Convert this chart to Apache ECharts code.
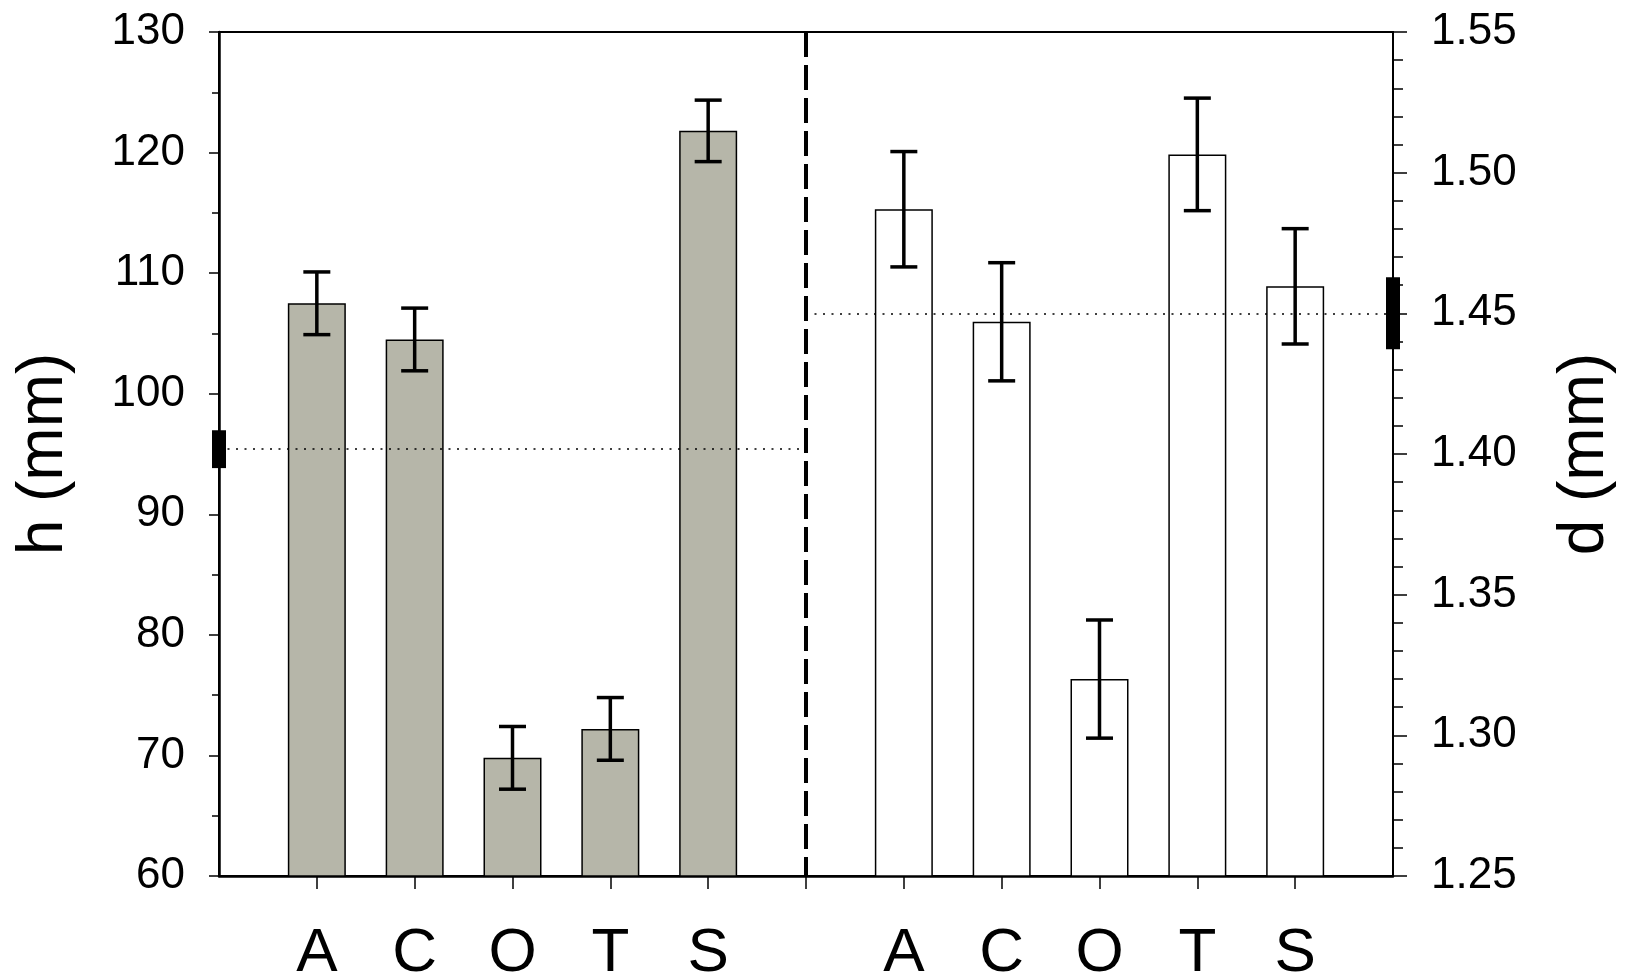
<!DOCTYPE html>
<html>
<head>
<meta charset="utf-8">
<script src="https://cdn.jsdelivr.net/npm/echarts@6/dist/echarts.min.js"></script>
<style>
html,body{margin:0;padding:0;background:#fff;}
#chart{width:1627px;height:980px;}
</style>
</head>
<body>
<div id="chart"></div>
<script>
// ---- data ----
const groups = ['A', 'C', 'O', 'T', 'S'];
const hMean = [107.5, 104.5, 69.8, 72.2, 121.8];
const hErr  = [2.6, 2.6, 2.6, 2.6, 2.55];
const dMean = [1.487, 1.447, 1.320, 1.5065, 1.4596];
const dErr  = [0.0205, 0.021, 0.021, 0.020, 0.0205];
const hRef = 95.4, hRefSpread = 1.57;
const dRef = 1.45, dRefSpread = 0.0128;
const hTicks = {min: 60, max: 130, step: 10};
const dTicks = {min: 1.25, max: 1.55, step: 0.05};

// ---- build ----
const slots = [''].concat(groups, [''], groups, ['']);
const last = slots.length - 1;
const mid = groups.length + 1;
const hIdx = groups.map((_, i) => i + 1);
const dIdx = groups.map((_, i) => i + mid + 1);
const FONT = '"Liberation Sans", Arial, sans-serif';

const errRender = function (params, api) {
  const x = api.value(0);
  const pHi = api.coord([x, api.value(2)]);
  const pLo = api.coord([x, api.value(1)]);
  const cap = 13.5;
  const st = {stroke: '#000', lineWidth: 3.5};
  return {type: 'group', children: [
    {type: 'line', shape: {x1: pHi[0], y1: pHi[1], x2: pLo[0], y2: pLo[1]}, style: st},
    {type: 'line', shape: {x1: pHi[0] - cap, y1: pHi[1], x2: pHi[0] + cap, y2: pHi[1]}, style: st},
    {type: 'line', shape: {x1: pLo[0] - cap, y1: pLo[1], x2: pLo[0] + cap, y2: pLo[1]}, style: st}
  ]};
};
const markRender = function (params, api) {
  const x = api.value(0);
  const pHi = api.coord([x, api.value(2)]);
  const pLo = api.coord([x, api.value(1)]);
  return {type: 'rect', shape: {x: pHi[0] - 7, y: pHi[1], width: 14, height: pLo[1] - pHi[1]},
    style: {fill: '#000'}};
};

const dotted = {color: '#000', width: 1.5, type: [2, 6.5]};

const option = {
  animation: false,
  backgroundColor: '#fff',
  grid: {left: 219, right: 234, top: 32, bottom: 104, show: true,
    containLabel: false, outerBoundsMode: 'none',
    borderColor: '#000', borderWidth: 2, backgroundColor: 'transparent'},
  xAxis: {
    type: 'category', data: slots, boundaryGap: false,
    axisLine: {lineStyle: {color: '#000', width: 2.5}},
    axisTick: {show: true, length: 13, interval: (i) => i > 0 && i < last,
      lineStyle: {color: '#000', width: 1.5}},
    axisLabel: {interval: 0, fontSize: 62, color: '#000', margin: 47, fontFamily: FONT},
    splitLine: {show: false}
  },
  yAxis: [
    {
      type: 'value', position: 'left', min: hTicks.min, max: hTicks.max, interval: hTicks.step,
      axisLine: {show: true, lineStyle: {color: '#000', width: 2.5}},
      axisTick: {show: true, length: 10, lineStyle: {color: '#000', width: 1.5}},
      minorTick: {show: true, splitNumber: 2, length: 7, lineStyle: {color: '#000', width: 1.5}},
      splitLine: {show: false},
      axisLabel: {fontSize: 44, color: '#000', margin: 34, fontFamily: FONT},
      name: 'h (mm)', nameLocation: 'middle', nameRotate: 90, nameGap: 143,
      nameTextStyle: {fontSize: 64, color: '#000', fontFamily: FONT}
    },
    {
      type: 'value', position: 'right', min: dTicks.min, max: dTicks.max, interval: dTicks.step,
      axisLine: {show: true, lineStyle: {color: '#000', width: 2}},
      axisTick: {show: true, length: 14, lineStyle: {color: '#000', width: 1.5}},
      minorTick: {show: true, splitNumber: 5, length: 10, lineStyle: {color: '#000', width: 1.5}},
      splitLine: {show: false},
      axisLabel: {fontSize: 44, color: '#000', margin: 38, fontFamily: FONT,
        formatter: (v) => v.toFixed(2)},
      name: 'd (mm)', nameLocation: 'middle', nameRotate: 90, nameGap: 160,
      nameTextStyle: {fontSize: 64, color: '#000', fontFamily: FONT}
    }
  ],
  series: [
    {
      type: 'bar', name: 'h', xAxisIndex: 0, yAxisIndex: 0, barWidth: 58, barGap: '-100%',
      data: hMean.map((v, i) => [hIdx[i], v]),
      itemStyle: {color: '#b6b6a9', borderColor: '#000', borderWidth: 1.5},
      markLine: {
        silent: true, symbol: 'none', label: {show: false}, animation: false,
        data: [
          [{coord: [0, hRef], lineStyle: dotted}, {coord: [mid, hRef]}],
          [{coord: [mid, hTicks.max], lineStyle: {color: '#000', width: 4, type: [25, 8]}},
           {coord: [mid, hTicks.min]}]
        ]
      }
    },
    {
      type: 'bar', name: 'd', xAxisIndex: 0, yAxisIndex: 1, barWidth: 58, barGap: '-100%',
      data: dMean.map((v, i) => [dIdx[i], v]),
      itemStyle: {color: '#fff', borderColor: '#000', borderWidth: 1.5},
      markLine: {
        silent: true, symbol: 'none', label: {show: false}, animation: false,
        data: [
          [{coord: [mid, dRef], lineStyle: dotted}, {coord: [last, dRef]}]
        ]
      }
    },
    {
      type: 'custom', yAxisIndex: 0, z: 10, renderItem: errRender,
      encode: {x: 0, y: [1, 2]},
      data: hMean.map((v, i) => [hIdx[i], v - hErr[i], v + hErr[i]])
    },
    {
      type: 'custom', yAxisIndex: 1, z: 10, renderItem: errRender,
      encode: {x: 0, y: [1, 2]},
      data: dMean.map((v, i) => [dIdx[i], v - dErr[i], v + dErr[i]])
    },
    {
      type: 'custom', yAxisIndex: 0, z: 20, renderItem: markRender, clip: false,
      encode: {x: 0, y: [1, 2]},
      data: [[0, hRef - hRefSpread, hRef + hRefSpread]]
    },
    {
      type: 'custom', yAxisIndex: 1, z: 20, renderItem: markRender, clip: false,
      encode: {x: 0, y: [1, 2]},
      data: [[last, dRef - dRefSpread, dRef + dRefSpread]]
    }
  ]
};

const chart = echarts.init(document.getElementById('chart'), null, {renderer: 'canvas'});
chart.setOption(option);
</script>
</body>
</html>
